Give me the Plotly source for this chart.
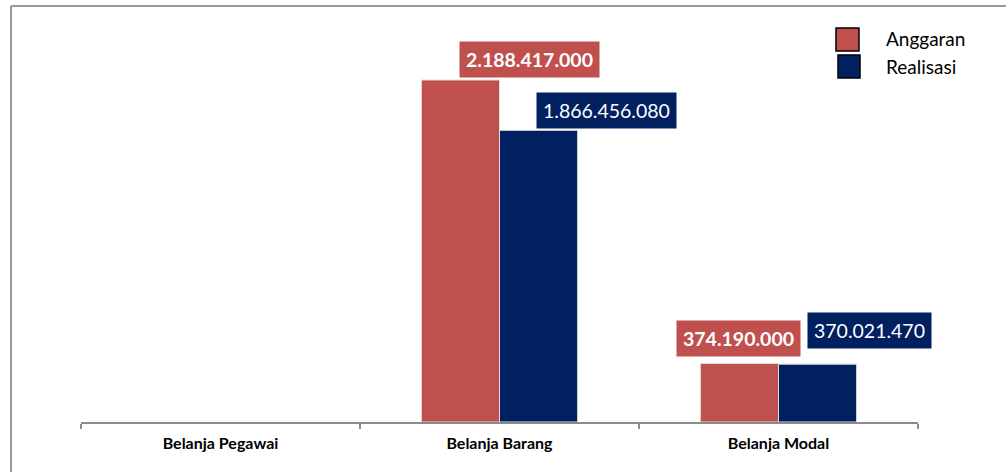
import plotly.graph_objects as go

categories = ["Belanja Pegawai", "Belanja Barang", "Belanja Modal"]
anggaran = [0, 2188417000, 374190000]
realisasi = [0, 1866456080, 370021470]
series_names = ["Anggaran", "Realisasi"]
anggaran_labels = ["", "2.188.417.000", "374.190.000"]
realisasi_labels = ["", "1.866.456.080", "370.021.470"]

RED = "#C0504D"
NAVY = "#002060"
W, H = 1006, 472
ML, MR, MT, MB = 81, 88, 20, 50
plot_w = W - ML - MR
plot_h = H - MT - MB
scale = 342 / 2188417000.0  # px per unit
ymax = plot_h / scale

def lw(vals):
    return [0 if v == 0 else 1 for v in vals]

fig = go.Figure()
fig.add_trace(go.Bar(x=categories, y=anggaran, name=series_names[0],
                     marker=dict(color=RED, line=dict(color="#dddddd", width=lw(anggaran)))))
fig.add_trace(go.Bar(x=categories, y=realisasi, name=series_names[1],
                     marker=dict(color=NAVY, line=dict(color="#dddddd", width=lw(realisasi)))))

# label offsets (pixels from category centre / bar top)
a_off = [(0, 0), (30, 2), (-40, 7)]
r_off = [(0, 0), (107, 1), (91, 15)]
font_lbl = "Lato, Calibri, sans-serif"
for i, c in enumerate(categories):
    if anggaran_labels[i]:
        fig.add_annotation(x=c, y=anggaran[i], text="<b>" + anggaran_labels[i] + "</b>",
                           showarrow=False, xshift=a_off[i][0], yshift=a_off[i][1],
                           yanchor="bottom", xanchor="center",
                           bgcolor=RED, borderpad=6,
                           font=dict(family=font_lbl, size=19.5, color="white"))
    if realisasi_labels[i]:
        fig.add_annotation(x=c, y=realisasi[i], text=realisasi_labels[i],
                           showarrow=False, xshift=r_off[i][0], yshift=r_off[i][1],
                           yanchor="bottom", xanchor="center",
                           bgcolor=NAVY, borderpad=6,
                           font=dict(family=font_lbl, size=19.5, color="white"))

def px_x(p):
    return (p - ML) / plot_w

def px_y(p):
    return (H - MB - p) / plot_h

# manual legend
shapes = []
for (x0, y0, x1, y1, col) in [(836, 28, 859, 51, RED), (838, 55, 860, 78, NAVY)]:
    shapes.append(dict(type="rect", xref="paper", yref="paper",
                       x0=px_x(x0), x1=px_x(x1), y0=px_y(y1), y1=px_y(y0),
                       fillcolor=col, line=dict(color="black", width=1.5)))
for txt, yc in [(series_names[0], 39), (series_names[1], 66)]:
    fig.add_annotation(xref="paper", yref="paper", x=px_x(884), y=px_y(yc),
                       text=txt, showarrow=False, xanchor="left", yanchor="middle",
                       font=dict(family=font_lbl, size=19, color="black"))

# chart border (left and top)
shapes.append(dict(type="line", xref="paper", yref="paper",
                   x0=px_x(11), x1=px_x(11), y0=px_y(472), y1=px_y(6),
                   line=dict(color="#999999", width=2)))
shapes.append(dict(type="line", xref="paper", yref="paper",
                   x0=px_x(11), x1=px_x(1010), y0=px_y(6), y1=px_y(6),
                   line=dict(color="#999999", width=2)))

fig.update_layout(
    width=W, height=H, autosize=False,
    margin=dict(l=ML, r=MR, t=MT, b=MB),
    paper_bgcolor="white", plot_bgcolor="white",
    barmode="group", bargap=0.44, bargroupgap=0.0,
    showlegend=False,
    shapes=shapes,
    font=dict(family=font_lbl),
)
fig.update_xaxes(range=[-0.5, 2.5], showline=True, linecolor="#8c8c8c", linewidth=1.5,
                 ticks="outside", tickson="boundaries", ticklen=5,
                 tickcolor="#8c8c8c", tickwidth=1.5, ticklabelstandoff=6,
                 tickfont=dict(family=font_lbl, size=16, color="black", weight="bold"),
                 showgrid=False)
fig.update_yaxes(range=[0, ymax], visible=False, showgrid=False)

post = ("document.body.style.margin='0';"
        "document.body.style.overflow='hidden';"
        "document.documentElement.style.overflow='hidden';")
fig.write_html("out.html", post_script=post,
               config={"displayModeBar": False, "responsive": False})
